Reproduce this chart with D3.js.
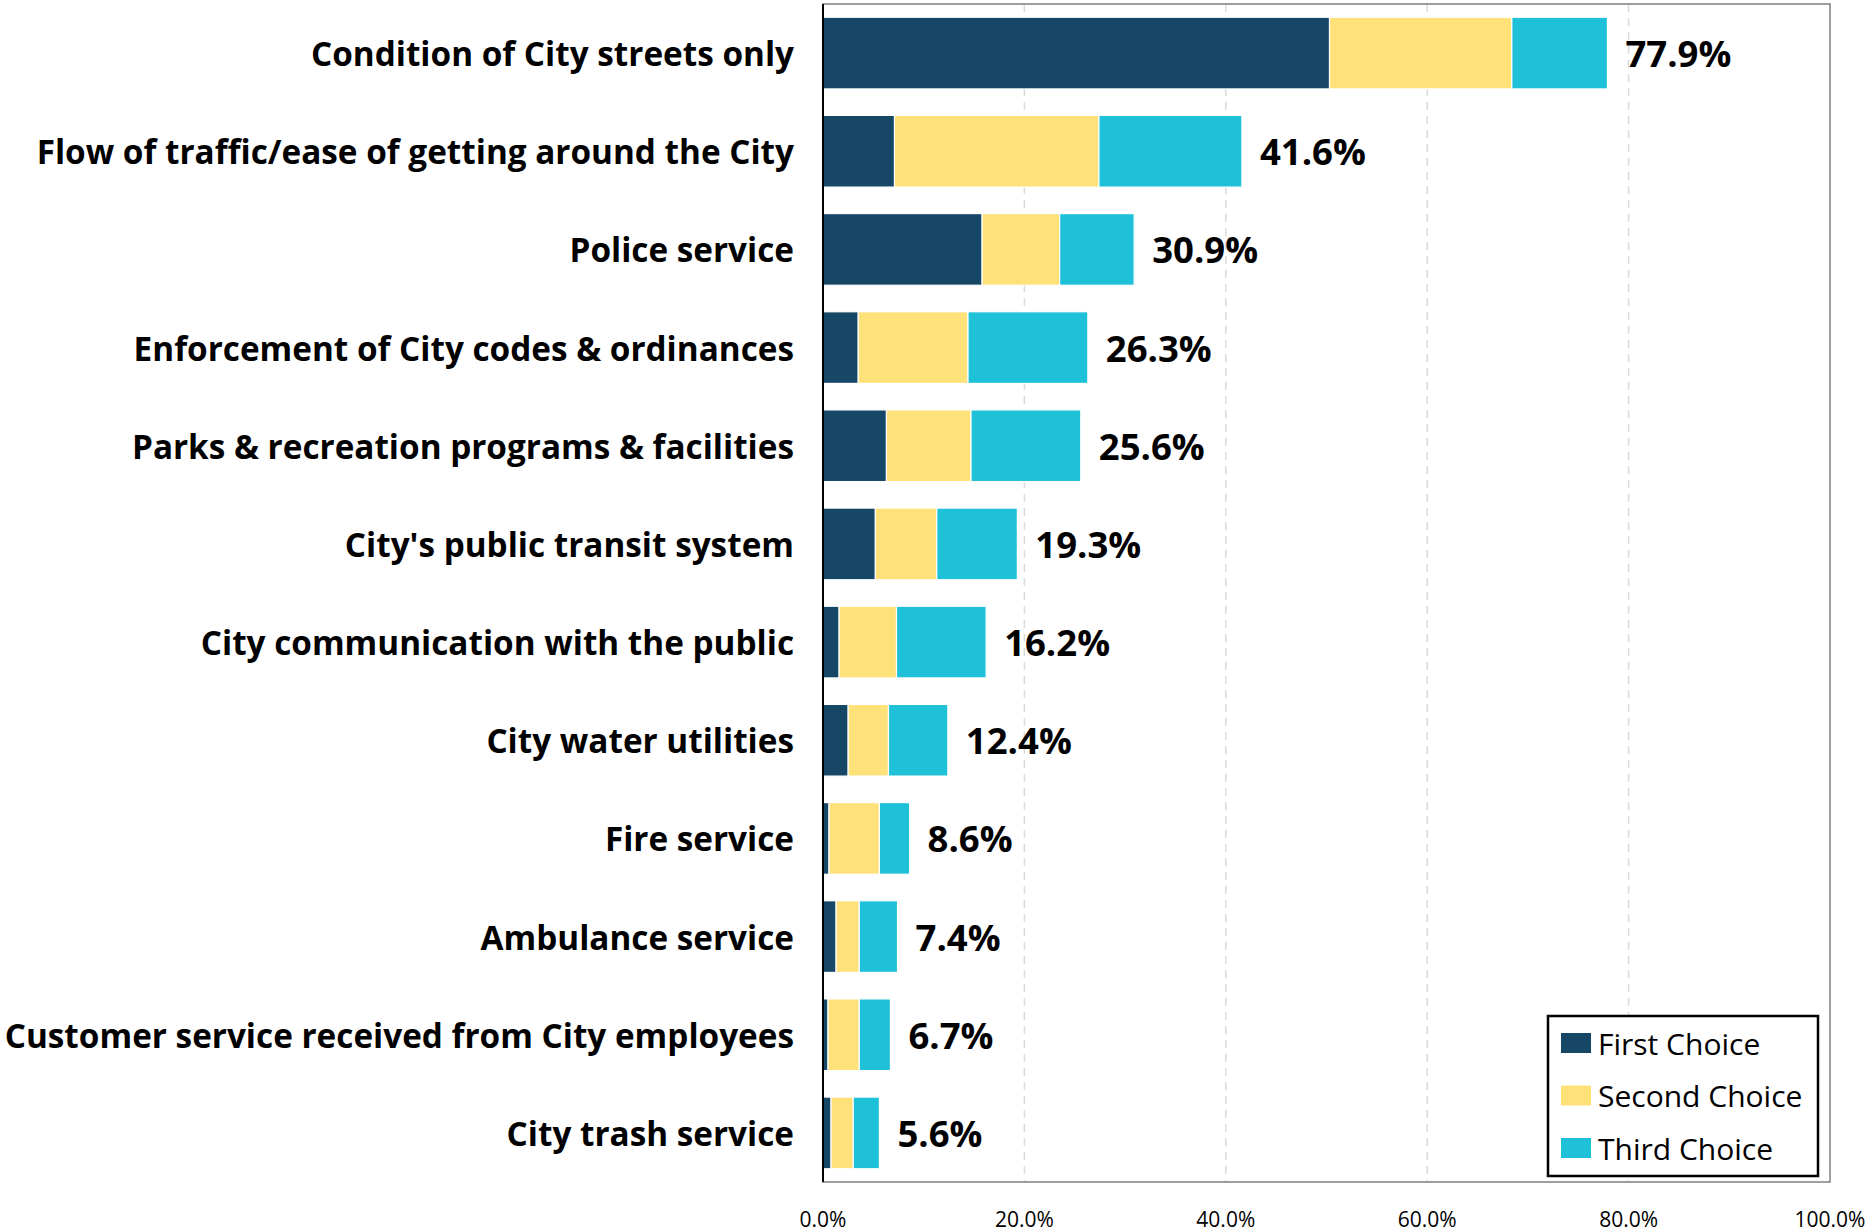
<!DOCTYPE html>
<html><head><meta charset="utf-8">
<script src="https://cdn.jsdelivr.net/npm/d3@7"></script>
<style>body{margin:0;background:#fff;} svg{display:block;font-family:"Open Sans",sans-serif;}</style>
</head><body>
<script>
const categories = [
  "Condition of City streets only",
  "Flow of traffic/ease of getting around the City",
  "Police service",
  "Enforcement of City codes & ordinances",
  "Parks & recreation programs & facilities",
  "City's public transit system",
  "City communication with the public",
  "City water utilities",
  "Fire service",
  "Ambulance service",
  "Customer service received from City employees",
  "City trash service"
];
const firstChoice  = [50.3, 7.1, 15.8, 3.5, 6.3, 5.2, 1.6, 2.5, 0.6, 1.3, 0.5, 0.8];
const secondChoice = [18.1, 20.3, 7.7, 10.9, 8.4, 6.1, 5.7, 4.0, 5.0, 2.3, 3.1, 2.2];
const thirdChoice  = [9.5, 14.2, 7.4, 11.9, 10.9, 8.0, 8.9, 5.9, 3.0, 3.8, 3.1, 2.6];
const totals = [77.9, 41.6, 30.9, 26.3, 25.6, 19.3, 16.2, 12.4, 8.6, 7.4, 6.7, 5.6];
const seriesNames = ["First Choice", "Second Choice", "Third Choice"];
const colors = ["#164766", "#FFE17A", "#1FC1D8"];
const xTicks = [0, 20, 40, 60, 80, 100];

const W = 1872, H = 1232;
const m = {left: 823, right: 1830, top: 4, bottom: 1182};
const svg = d3.select("body").append("svg").attr("width", W).attr("height", H);

const x = d3.scaleLinear().domain([0, 100]).range([m.left, m.right]);
const y = d3.scaleBand().domain(categories).range([m.top, m.bottom]).paddingInner(0.27).paddingOuter(0.135);

// gridlines
svg.append("g").selectAll("line").data(xTicks.filter(d => d > 0 && d < 100)).join("line")
  .attr("x1", d => x(d)).attr("x2", d => x(d)).attr("y1", m.top).attr("y2", m.bottom)
  .attr("stroke", "#d9d9d9").attr("stroke-width", 1.5).attr("stroke-dasharray", "8,6");

// plot border
svg.append("rect").attr("x", m.left).attr("y", m.top).attr("width", m.right - m.left).attr("height", m.bottom - m.top)
  .attr("fill", "none").attr("stroke", "#7f7f7f").attr("stroke-width", 1.5);

const data = categories.map((c, i) => ({cat: c, "First Choice": firstChoice[i], "Second Choice": secondChoice[i], "Third Choice": thirdChoice[i], total: totals[i]}));
const stack = d3.stack().keys(seriesNames)(data);

svg.append("g").selectAll("g").data(stack).join("g")
  .attr("fill", (d, i) => colors[i])
  .selectAll("rect").data(d => d).join("rect")
  .attr("x", d => x(d[0])).attr("width", d => x(d[1]) - x(d[0]))
  .attr("y", d => y(d.data.cat)).attr("height", y.bandwidth())
  .attr("stroke", "#ffffff").attr("stroke-width", 1.2);

// left axis line
svg.append("line").attr("x1", m.left).attr("x2", m.left).attr("y1", m.top).attr("y2", m.bottom)
  .attr("stroke", "#000").attr("stroke-width", 2);

// category labels
svg.append("g").selectAll("text").data(categories).join("text")
  .attr("x", 794).attr("y", d => y(d) + y.bandwidth() / 2)
  .attr("text-anchor", "end").attr("dominant-baseline", "central")
  .attr("font-weight", 700).attr("font-size", 33.3).attr("fill", "#000").text(d => d);

// value labels
svg.append("g").selectAll("text").data(data).join("text")
  .attr("x", d => x(d.total) + 18).attr("y", d => y(d.cat) + y.bandwidth() / 2)
  .attr("dominant-baseline", "central")
  .attr("font-weight", 700).attr("font-size", 36.5).attr("fill", "#000").text(d => d.total.toFixed(1) + "%");

// x axis tick labels
svg.append("g").selectAll("text").data(xTicks).join("text")
  .attr("x", d => x(d)).attr("y", 1227).attr("text-anchor", "middle")
  .attr("font-size", 21).attr("fill", "#000").text(d => d.toFixed(1) + "%");

// legend
const lg = svg.append("g");
lg.append("rect").attr("x", 1548).attr("y", 1016).attr("width", 270).attr("height", 160)
  .attr("fill", "#fff").attr("stroke", "#000").attr("stroke-width", 2.5);
seriesNames.forEach((s, i) => {
  const cy = 1043 + i * 52.5;
  lg.append("rect").attr("x", 1561).attr("y", cy - 10).attr("width", 30).attr("height", 20).attr("fill", colors[i]);
  lg.append("text").attr("x", 1598).attr("y", cy).attr("dominant-baseline", "central")
    .attr("font-size", 30).attr("fill", "#000").text(s);
});
</script>
</body></html>
